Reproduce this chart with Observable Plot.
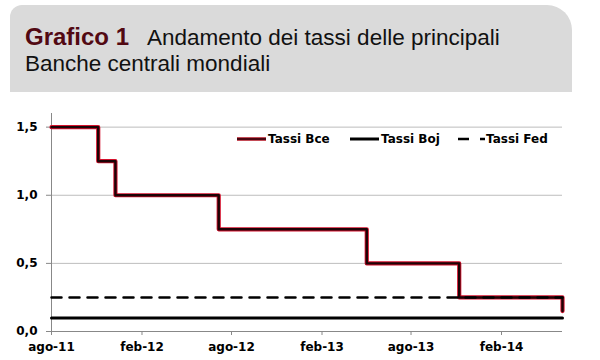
<!DOCTYPE html>
<html>
<head>
<meta charset="utf-8">
<script src="https://cdn.jsdelivr.net/npm/d3@7"></script>
<script src="https://cdn.jsdelivr.net/npm/@observablehq/plot@0.6"></script>
<style>
  html, body { margin: 0; padding: 0; background: #fff; }
  #wrap { position: relative; width: 600px; height: 360px; overflow: hidden; }
  #head { position: absolute; left: 10px; top: 5px; width: 562px; height: 87px; background: #dadada; border-radius: 12px 25px 0 0; }
  #headtext { position: absolute; left: 0; top: 0; }
  #chart { position: absolute; left: 0; top: 100px; }
  #legend { position: absolute; left: 0; top: 0; }
</style>
</head>
<body>
<div id="wrap">
  <div id="head"></div>
  <svg id="headtext" width="600" height="100">
    <text x="25" y="45" font-family="'Liberation Sans', Arial, sans-serif" fill="#111">
      <tspan font-weight="bold" font-size="24" fill="#520913">Grafico 1</tspan><tspan x="147" font-size="22.5">Andamento dei tassi delle principali</tspan>
    </text>
    <text x="25" y="71" font-family="'Liberation Sans', Arial, sans-serif" font-size="22.5" fill="#111">Banche centrali mondiali</text>
  </svg>
  <div id="chart"></div>
  <svg id="legend" width="600" height="360"></svg>
</div>
<script>
// Data
const ecbDates = ["2011-08-01", "2011-11-04", "2011-12-09", "2012-07-06", "2013-05-03", "2013-11-07", "2014-06-05"];
const ecbRates = [1.5, 1.25, 1.0, 0.75, 0.5, 0.25, 0.15];
const bojDates = ["2011-08-01", "2014-06-05"];
const bojRates = [0.1, 0.1];
const fedDates = ["2011-08-01", "2014-06-05"];
const fedRates = [0.25, 0.25];
const xTickDates = ["2011-08-01", "2012-02-01", "2012-08-01", "2013-02-01", "2013-08-01", "2014-02-01"];
const xTickLabels = ["ago-11", "feb-12", "ago-12", "feb-13", "ago-13", "feb-14"];
const yTicks = [0, 0.5, 1.0, 1.5];
const seriesNames = ["Tassi Bce", "Tassi Boj", "Tassi Fed"];

const P = d => new Date(d + "T00:00:00Z");
const toRows = (ds, vs) => ds.map((d, i) => ({date: P(d), rate: vs[i]}));
const ecb = toRows(ecbDates, ecbRates);
const boj = toRows(bojDates, bojRates);
const fed = toRows(fedDates, fedRates);
const xTicks = xTickDates.map(P);
const xDomain = [P(ecbDates[0]), P(ecbDates[ecbDates.length - 1])];

const chart = Plot.plot({
  width: 600,
  height: 260,
  marginLeft: 51,
  marginRight: 38,
  marginTop: 13,
  marginBottom: 29,
  style: {fontFamily: "'DejaVu Sans', sans-serif", fontSize: "12px", fontWeight: "bold", color: "#000", background: "transparent"},
  x: {type: "utc", domain: xDomain},
  y: {domain: [0, 1.6]},
  marks: [
    Plot.ruleY(yTicks.filter(d => d > 0), {stroke: "#bdbdbd", strokeWidth: 1}),
    Plot.axisY(yTicks, {tickSize: 5, tickPadding: 9, stroke: "#888", tickFormat: d => d.toFixed(1).replace(".", ","), fill: "#000", fontWeight: "bold", label: null}),
    Plot.axisX(xTicks, {tickSize: 4, tickPadding: 7, stroke: "#888", tickFormat: (d, i) => xTickLabels[i], fill: "#000", fontWeight: "bold", label: null}),
    Plot.ruleX([xDomain[0]], {y1: 0, y2: 1.6, stroke: "#888"}),
    Plot.ruleY([0], {stroke: "#888"}),
    Plot.line(boj, {x: "date", y: "rate", stroke: "#000", strokeWidth: 3}),
    Plot.line(ecb, {x: "date", y: "rate", curve: "step-after", stroke: "#d4112c", strokeWidth: 4.2}),
    Plot.line(ecb, {x: "date", y: "rate", curve: "step-after", stroke: "#1c0306", strokeWidth: 2.4}),
    Plot.line(fed, {x: "date", y: "rate", stroke: "#000", strokeWidth: 2.5, strokeDasharray: "10,8"})
  ]
});
document.getElementById("chart").appendChild(chart);

// Legend
const lg = d3.select("#legend");
const ly = 139;
const items = [
  {x0: 237, x1: 266, tx: 268, kind: "ecb"},
  {x0: 350, x1: 379, tx: 381, kind: "boj"},
  {x0: 458, x1: 485, tx: 486, kind: "fed"}
];
items.forEach((it, i) => {
  if (it.kind === "ecb") {
    lg.append("line").attr("x1", it.x0).attr("x2", it.x1).attr("y1", ly).attr("y2", ly).attr("stroke", "#b0101f").attr("stroke-width", 3.5);
    lg.append("line").attr("x1", it.x0).attr("x2", it.x1).attr("y1", ly).attr("y2", ly).attr("stroke", "#4a0610").attr("stroke-width", 2);
  } else if (it.kind === "boj") {
    lg.append("line").attr("x1", it.x0).attr("x2", it.x1).attr("y1", ly).attr("y2", ly).attr("stroke", "#000").attr("stroke-width", 3);
  } else {
    lg.append("line").attr("x1", it.x0).attr("x2", it.x1).attr("y1", ly).attr("y2", ly).attr("stroke", "#000").attr("stroke-width", 2.5).attr("stroke-dasharray", "11,11");
  }
  lg.append("text").attr("x", it.tx).attr("y", ly).attr("dy", "0.35em")
    .attr("font-family", "'DejaVu Sans', sans-serif").attr("font-size", 12).attr("font-weight", "bold").attr("fill", "#000")
    .text(seriesNames[i]);
});
</script>
</body>
</html>
